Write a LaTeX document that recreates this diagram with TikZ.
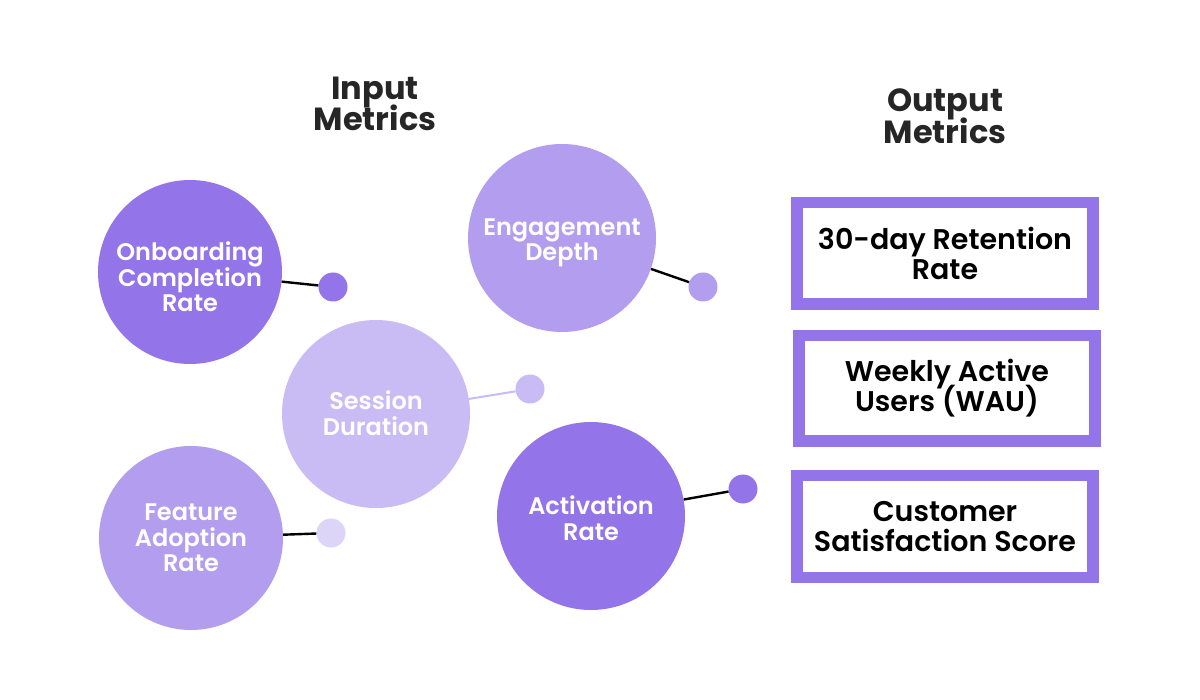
\documentclass[tikz,border=0pt]{standalone}
\usepackage{fontspec}
\setmainfont{Poppins}
\newfontfamily\semib{Poppins SemiBold}
\AtBeginDocument{\setlength{\lineskiplimit}{-50pt}}
\definecolor{pdark}{HTML}{9374E9}
\definecolor{pmid}{HTML}{B39DEF}
\definecolor{plight}{HTML}{C9BBF4}
\definecolor{pfaint}{HTML}{DDD5F8}
\definecolor{titlec}{HTML}{262626}
\tikzset{
  bigcirc/.style={circle, inner sep=0pt, minimum size=#1},
  ctext/.style={text=white, font=\semib\fontsize{24}{25.5}\selectfont, align=center, inner sep=0pt},
  dotc/.style={circle, inner sep=0pt, minimum size=29pt, fill=#1},
  link/.style={line width=2.4pt, black},
  outbox/.style={rectangle, draw=pdark, line width=11.5pt, fill=white, inner sep=0pt,
    minimum width=296pt, minimum height=#1, align=center,
    font=\semib\fontsize{28.5}{30}\selectfont, text=black},
  titlebox/.style={align=center, text=titlec, font=\bfseries\fontsize{32}{31.5}\selectfont}
}
\begin{document}
\begin{tikzpicture}[x=1pt,y=-1pt]
\useasboundingbox[fill=white] (0,0) rectangle (1200,700);
% titles
\node[titlebox] (tin) at (375,104) {Input\\Metrics};
\node[titlebox] (tout) at (945,116) {Output\\Metrics};
% circles
\node[bigcirc=184pt, fill=pdark, label={[ctext, yshift=-5pt]center:{Onboarding\\Completion\\Rate}}] (onb) at (190,272) {};
\node[bigcirc=188pt, fill=pmid, label={[ctext, yshift=-5pt]center:{Engagement\\Depth}}] (eng) at (562,238) {};
\node[bigcirc=188pt, fill=plight, label={[ctext, yshift=1pt]center:{Session\\Duration}}] (ses) at (376,414) {};
\node[bigcirc=184pt, fill=pmid, label={[ctext]center:{Feature\\Adoption\\Rate}}] (fea) at (191,538) {};
\node[bigcirc=188pt, fill=pdark, label={[ctext, yshift=-2pt]center:{Activation\\Rate}}] (act) at (591,516) {};
% dots
\node[dotc=pdark] (onbd) at (333,287) {};
\node[dotc=pmid] (engd) at (703,287) {};
\node[dotc=plight] (sesd) at (530,389) {};
\node[dotc=pfaint] (fead) at (331,533) {};
\node[dotc=pdark] (actd) at (743,489) {};
% links
\draw[link] (onb) -- (onbd);
\draw[link] (eng) -- (engd);
\draw[link, draw=plight, line width=2pt] (ses) -- (sesd);
\draw[link] (fea) -- (fead);
\draw[link] (act) -- (actd);
% output boxes
\node[outbox=101.5pt] (b1) at (945,253.5) {30-day Retention\\Rate};
\node[outbox=105.5pt] (b2) at (947,388.5) {Weekly Active\\Users (WAU)};
\node[outbox=101.5pt] (b3) at (945,526.5) {Customer\\Satisfaction Score};
\end{tikzpicture}
\end{document}
